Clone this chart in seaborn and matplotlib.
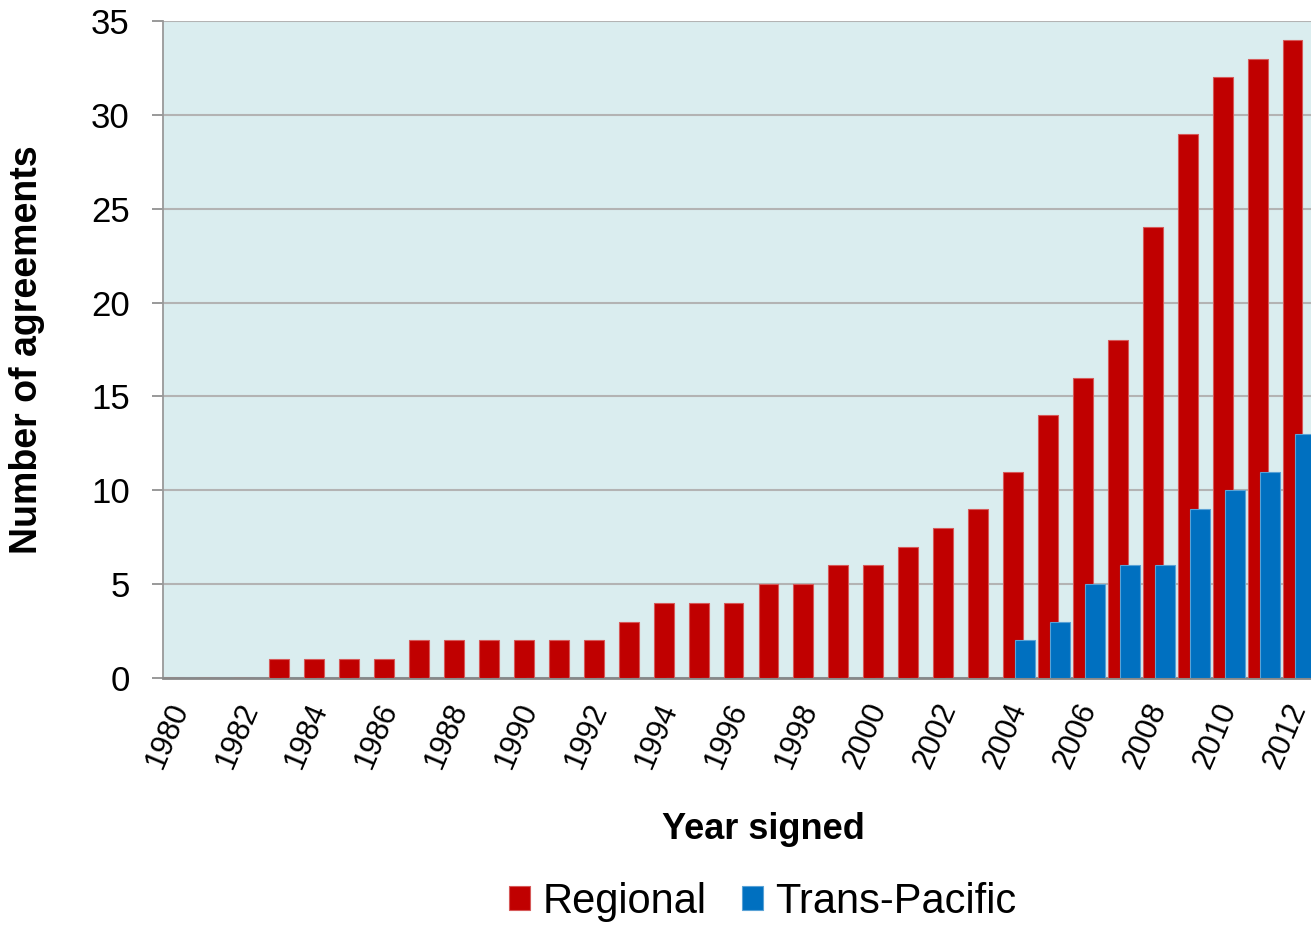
# Acordos comerciais por ano de assinatura (Regional x Trans-Pacific)
import pandas as pd
import matplotlib.pyplot as plt
import seaborn as sns

sns.set_theme(style="white")
plt.rcParams['font.family'] = ['Liberation Sans', 'DejaVu Sans']
plt.rcParams['text.color'] = 'black'
plt.rcParams['axes.labelcolor'] = 'black'
plt.rcParams['xtick.color'] = 'black'
plt.rcParams['ytick.color'] = 'black'

# Dados
anos = [str(a) for a in range(1980, 2013)]
regional = [0, 0, 0, 1, 1, 1, 1, 2, 2, 2, 2, 2, 2, 3, 4, 4, 4, 5, 5, 6, 6,
            7, 8, 9, 11, 14, 16, 18, 24, 29, 32, 33, 34]
trans_pacific = [0] * 24 + [2, 3, 5, 6, 6, 9, 10, 11, 13]
series = ['Regional', 'Trans-Pacific']
cores = {'Regional': '#C00000', 'Trans-Pacific': '#0070C0'}
y_ticks = [0, 5, 10, 15, 20, 25, 30, 35]

df = pd.DataFrame({
    'ano': anos * 2,
    'tipo': [series[0]] * len(anos) + [series[1]] * len(anos),
    'valor': regional + trans_pacific,
})

fig = plt.figure(figsize=(13.11, 9.25), dpi=100)
ax = fig.add_axes([163 / 1311, 1 - 678 / 925, 1153 / 1311, 657 / 925])
ax.set_facecolor('#DAEDEF')

sns.barplot(data=df, x='ano', y='valor', hue='tipo', order=anos,
            hue_order=series, palette=cores, width=0.686, gap=-0.66,
            errorbar=None, saturation=1, ax=ax, legend=True)

# bordas levemente mais claras nas barras
for p in ax.patches:
    r, g, b, _ = p.get_facecolor()
    p.set_edgecolor((r + (1 - r) * 0.35, g + (1 - g) * 0.35, b + (1 - b) * 0.35))
    p.set_linewidth(0.8)
    p.set_zorder(3)

ax.set_ylim(0, 35)
ax.set_yticks(y_ticks)
ax.yaxis.grid(True, color='#B3B3B3', linewidth=1.5, zorder=0)
ax.set_axisbelow(True)

ax.set_xticks(range(0, len(anos), 2))
ax.set_xticklabels(anos[::2], rotation=67, ha='right', va='center',
                   rotation_mode='anchor', fontsize=22)
ax.tick_params(axis='x', length=0, pad=19)
ax.tick_params(axis='y', labelsize=25, length=8, width=1.2, color='#888888',
               labelcolor='black', pad=16, left=True, direction='out')

for lado in ['top', 'right']:
    ax.spines[lado].set_visible(False)
ax.spines['left'].set_color('#999999')
ax.spines['left'].set_linewidth(1.3)
ax.spines['bottom'].set_color('#888888')
ax.spines['bottom'].set_linewidth(2)

ax.set_xlabel('Year signed', fontsize=26, fontweight='bold')
ax.set_ylabel('Number of agreements', fontsize=27, fontweight='bold')
ax.xaxis.set_label_coords(0.521, -0.204)
ax.yaxis.set_label_coords(-0.102, 0.5)

handles, labels = ax.get_legend_handles_labels()
ax.get_legend().remove()
fig.legend(handles, labels, loc='center', ncol=2, frameon=False,
           bbox_to_anchor=(763 / 1311, 1 - 902 / 925), fontsize=30,
           handlelength=0.5, handleheight=0.5, handletextpad=0.3,
           columnspacing=0.85)

plt.savefig('out.png', dpi=100)
